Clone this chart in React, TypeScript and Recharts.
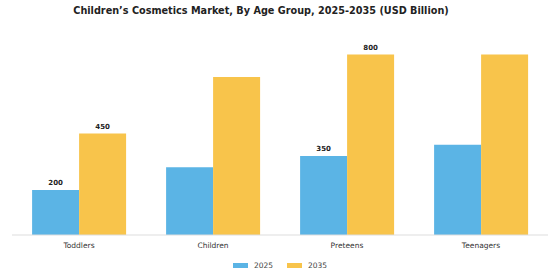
import { BarChart, Bar, XAxis, YAxis, Legend, LabelList } from 'recharts';

const groups = ['Toddlers', 'Children', 'Preteens', 'Teenagers'];
const values2025 = [200, 300, 350, 400];
const values2035 = [450, 700, 800, 800];
// only some bars carry a value label in the original
const labels2025 = ['200', '', '350', ''];
const labels2035 = ['450', '', '800', ''];

const data = groups.map((g, i) => ({
  group: g,
  y2025: values2025[i],
  y2035: values2035[i],
  l2025: labels2025[i],
  l2035: labels2035[i],
}));

const BLUE = '#5BB4E5';
const ORANGE = '#F8C44B';
const FONT = '"DejaVu Sans", Verdana, sans-serif';

const renderLabel = (props: any) => {
  const { x, y, width, value } = props;
  if (!value) return null;
  return (
    <text
      x={x + width / 2}
      y={y - 5}
      textAnchor="middle"
      fontSize={7}
      fontWeight="bold"
      fill="#222"
      fontFamily={FONT}
    >
      {value}
    </text>
  );
};

const renderLegend = (props: any) => {
  const { payload } = props;
  return (
    <div style={{ display: 'flex', justifyContent: 'center', alignItems: 'center', gap: 14 }}>
      {payload.map((p: any) => (
        <div key={p.value} style={{ display: 'flex', alignItems: 'center' }}>
          <span style={{ display: 'inline-block', width: 15, height: 5, background: p.color, marginRight: 6 }} />
          <span style={{ fontSize: 7.5, color: '#444', fontFamily: FONT }}>{p.value}</span>
        </div>
      ))}
    </div>
  );
};

export default function App() {
  return (
    <div style={{ position: 'absolute', left: 0, top: 0, width: 560, height: 280, background: '#fff', fontFamily: FONT }}>
      <div
        style={{
          position: 'absolute',
          top: 5,
          left: 0,
          width: 522,
          textAlign: 'center',
          fontSize: 9.7,
          fontWeight: 'bold',
          color: '#222',
        }}
      >
        Children’s Cosmetics Market, By Age Group, 2025-2035 (USD Billion)
      </div>
      <BarChart
        width={560}
        height={280}
        data={data}
        margin={{ top: 32, right: 12, bottom: 5, left: 12 }}
        barGap={0}
        barCategoryGap="15%"
      >
        <XAxis
          dataKey="group"
          axisLine={{ stroke: '#ddd' }}
          tickLine={false}
          tick={{ fontSize: 7.5, fill: '#333', fontFamily: FONT }}
          height={20}
        />
        <YAxis hide domain={[0, 900]} />
        <Legend
          verticalAlign="bottom"
          height={20}
          content={renderLegend}
          wrapperStyle={{ bottom: -1, left: 12 }}
        />
        <Bar dataKey="y2025" name="2025" fill={BLUE} isAnimationActive={false}>
          <LabelList dataKey="l2025" content={renderLabel} />
        </Bar>
        <Bar dataKey="y2035" name="2035" fill={ORANGE} isAnimationActive={false}>
          <LabelList dataKey="l2035" content={renderLabel} />
        </Bar>
      </BarChart>
    </div>
  );
}
